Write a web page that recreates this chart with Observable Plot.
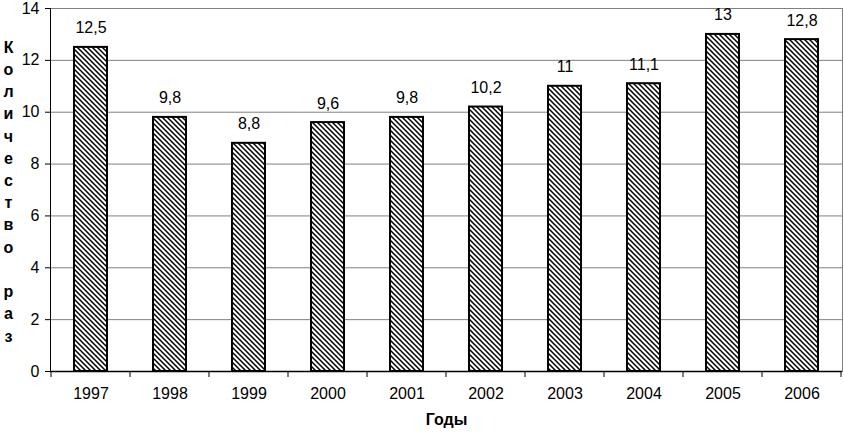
<!DOCTYPE html>
<html>
<head>
<meta charset="utf-8">
<script src="https://cdn.jsdelivr.net/npm/d3@7"></script>
<script src="https://cdn.jsdelivr.net/npm/@observablehq/plot@0.6"></script>
<style>
  html, body { margin: 0; padding: 0; background: #fff; }
  #chart { width: 844px; height: 433px; }
  svg { font-family: "Liberation Sans", Arial, sans-serif; }
</style>
</head>
<body>
<div id="chart"></div>
<script>
const years = ["1997","1998","1999","2000","2001","2002","2003","2004","2005","2006"];
const values = [12.5, 9.8, 8.8, 9.6, 9.8, 10.2, 11, 11.1, 13, 12.8];
const yTicks = [0, 2, 4, 6, 8, 10, 12, 14];
const yLabel = "Количество раз";
const xLabel = "Годы";

const data = years.map((year, i) => ({year, value: values[i]}));
const fmt = v => String(v).replace(".", ",");

// boundary ticks on the band x axis + hatch pattern defs
function boundaryTicks(index, scales, values, dimensions) {
  const x = scales.x, y = scales.y;
  const step = x(years[1]) - x(years[0]);
  const g = d3.create("svg:g");
  const defs = g.append("defs");
  const pat = defs.append("pattern")
    .attr("id", "hatch").attr("patternUnits", "userSpaceOnUse")
    .attr("width", 5).attr("height", 5);
  pat.append("rect").attr("width", 5).attr("height", 5).attr("fill", "#fff");
  pat.append("path").attr("d", "M-1,-1L6,6M-1,4L1,6M4,-1L6,1")
    .attr("stroke", "#000").attr("stroke-width", 1.5);
  const y0 = y(0);
  const bounds = years.map(yr => x(yr)).concat([x(years[years.length - 1]) + step]);
  g.selectAll("line.b").data(bounds).join("line")
    .attr("x1", d => d).attr("x2", d => d)
    .attr("y1", y0).attr("y2", y0 + 6)
    .attr("stroke", "#000").attr("stroke-width", 1);
  return g.node();
}

const chart = Plot.plot({
  width: 844,
  height: 433,
  marginLeft: 50,
  marginRight: 2,
  marginTop: 8,
  marginBottom: 62,
  style: {fontFamily: "'Liberation Sans', Arial, sans-serif", fontSize: "16px", background: "#fff"},
  x: {domain: years, padding: 0, label: null},
  y: {domain: [0, 14], label: null},
  marks: [
    boundaryTicks,
    Plot.ruleY(yTicks.filter(d => d > 0), {stroke: "#808080", strokeWidth: 1, strokeOpacity: 1}),
    Plot.frame({anchor: "right", stroke: "#808080", strokeOpacity: 1}),
    Plot.barY(data, {x: "year", y: "value", fill: "url(#hatch)", stroke: "#000", strokeWidth: 2, insetLeft: 23, insetRight: 23}),
    Plot.text(data, {x: "year", y: "value", text: d => fmt(d.value), lineAnchor: "bottom", dy: -14, fontSize: 16, fill: "#000"}),
    Plot.axisY({ticks: yTicks, tickSize: 5, tickPadding: 6, fontSize: 16, stroke: "#000", tickFormat: d => String(d)}),
    Plot.axisX({tickSize: 0, tickPadding: 16, fontSize: 16}),
    Plot.frame({anchor: "left", stroke: "#000", strokeOpacity: 1}),
    Plot.ruleY([0], {stroke: "#000", strokeWidth: 1.5}),
    Plot.text([yLabel], {frameAnchor: "left", dx: -42, text: d => d.split("").join("\n"), lineHeight: 1.39, fontWeight: "bold", fontSize: 16, textAnchor: "middle", fill: "#000"}),
    Plot.text([xLabel], {frameAnchor: "bottom", dy: 53, text: d => d, fontWeight: "bold", fontSize: 16, textAnchor: "middle", fill: "#000"})
  ]
});
document.getElementById("chart").append(chart);
</script>
</body>
</html>
